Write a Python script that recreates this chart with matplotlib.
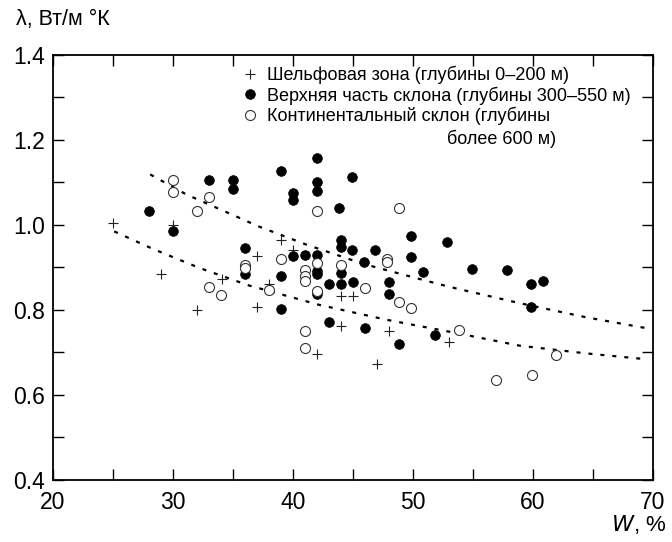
import matplotlib
matplotlib.use('Agg')
import matplotlib.pyplot as plt
from matplotlib.ticker import MultipleLocator, FormatStrFormatter

# шельфовая зона (крестики)
shelf_w = [25, 29, 30, 32, 34.1, 37, 37, 38, 39, 40, 42, 44, 45, 44, 48, 47, 53]
shelf_l = [1.005, 0.885, 1.0, 0.80, 0.873, 0.926, 0.807, 0.86, 0.965, 0.942,
           0.696, 0.832, 0.832, 0.763, 0.751, 0.672, 0.724]

# верхняя часть склона (закрашенные)
upper_w = [28, 30, 33, 35, 35, 36, 36, 39, 42, 42, 42, 44.9, 40, 40, 43.8, 44,
           44, 44.9, 46.8, 49.8, 49.8, 52.8, 50.8, 40, 41, 42, 42, 42, 42, 45.9,
           44, 39, 43, 44, 45, 48, 48, 39, 43, 46, 48.8, 51.8, 54.9, 57.8, 59.8,
           60.8, 59.8]
upper_l = [1.032, 0.987, 1.106, 1.106, 1.084, 0.947, 0.884, 1.127, 1.158, 1.102,
           1.081, 1.114, 1.076, 1.059, 1.04, 0.964, 0.948, 0.94, 0.94, 0.973,
           0.924, 0.959, 0.89, 0.926, 0.929, 0.929, 0.892, 0.884, 0.837, 0.914,
           0.888, 0.881, 0.861, 0.861, 0.865, 0.866, 0.837, 0.803, 0.772, 0.757,
           0.72, 0.74, 0.897, 0.894, 0.86, 0.868, 0.806]

# континентальный склон (пустые)
cont_w = [30, 30, 33, 32, 36, 36, 33, 34, 42, 48.8, 39, 42, 42, 44, 41, 41, 41,
          47.8, 47.8, 38, 46, 48.8, 49.8, 41, 41, 53.8, 61.9, 56.9, 59.9]
cont_l = [1.105, 1.078, 1.067, 1.032, 0.905, 0.899, 0.854, 0.836, 1.033, 1.04,
          0.92, 0.911, 0.845, 0.905, 0.895, 0.879, 0.868, 0.919, 0.912, 0.846,
          0.852, 0.818, 0.805, 0.75, 0.71, 0.752, 0.693, 0.635, 0.647]

# пунктирные кривые
top_w = [28.1, 31.1, 35.2, 37.1, 41.1, 45.8, 50.0, 53.1, 58.9, 64.4, 69.5]
top_l = [1.119, 1.072, 1.021, 0.997, 0.954, 0.909, 0.877, 0.854, 0.816, 0.783, 0.757]
bot_w = [25.1, 28.3, 32.2, 36.3, 42.2, 47.8, 53.2, 58.9, 64.4, 69.5]
bot_l = [0.985, 0.944, 0.899, 0.858, 0.812, 0.777, 0.748, 0.716, 0.698, 0.684]

legend_labels = ['Шельфовая зона (глубины 0–200 м)',
                 'Верхняя часть склона (глубины 300–550 м)',
                 'Континентальный склон (глубины']
legend_tail = 'более 600 м)'

narrow = ['Liberation Sans Narrow', 'Liberation Sans', 'DejaVu Sans']
plt.rcParams['font.family'] = ['Liberation Sans', 'DejaVu Sans']

fig = plt.figure(figsize=(6.72, 5.42), dpi=100)
ax = fig.add_axes([53 / 672, 1 - 480 / 542, 600 / 672, 425 / 542])

dash = (0, (1.8, 3.6))
ax.plot(top_w, top_l, color='black', lw=1.6, linestyle=dash, zorder=1)
ax.plot(bot_w, bot_l, color='black', lw=1.6, linestyle=dash, zorder=1)

h1, = ax.plot(shelf_w, shelf_l, '+', color='#222222', ms=7, mew=0.8,
              linestyle='none', zorder=2)
h2, = ax.plot(upper_w, upper_l, 'o', color='black', ms=7, mew=0.5,
              linestyle='none', zorder=3)
h3, = ax.plot(cont_w, cont_l, 'o', mfc='white', mec='#333333', ms=7.2, mew=0.8,
              linestyle='none', zorder=4)

ax.set_xlim(20, 70)
ax.set_ylim(0.4, 1.4)
ax.xaxis.set_major_locator(MultipleLocator(10))
ax.xaxis.set_minor_locator(MultipleLocator(5))
ax.yaxis.set_major_locator(MultipleLocator(0.2))
ax.yaxis.set_minor_locator(MultipleLocator(0.1))
ax.yaxis.set_major_formatter(FormatStrFormatter('%.1f'))
ax.tick_params(which='both', direction='in', top=True, right=True,
               length=8, width=1.0, pad=6)
ax.tick_params(axis='x', pad=8)
for lab in ax.get_xticklabels() + ax.get_yticklabels():
    lab.set_family(narrow)
    lab.set_fontsize(16.5)
for sp in ax.spines.values():
    sp.set_linewidth(1.3)

leg = ax.legend([h1, h2, h3], legend_labels, loc='upper left',
                bbox_to_anchor=(0.295, 1.004), frameon=False, fontsize=13,
                handlelength=0.8, handletextpad=0.55, labelspacing=0.11,
                borderpad=0.2)
ax.text(52.8, 1.203, legend_tail, fontsize=13, va='center', ha='left')

fig.text(16 / 672, 1 - 20 / 542, 'λ, Вт/м °К', fontsize=15.5, va='center',
         ha='left')
fig.text(666 / 672, 1 - 525 / 542, r'$W$, %', fontsize=16, va='center',
         ha='right', family=narrow)

fig.savefig('out.png', dpi=100)
